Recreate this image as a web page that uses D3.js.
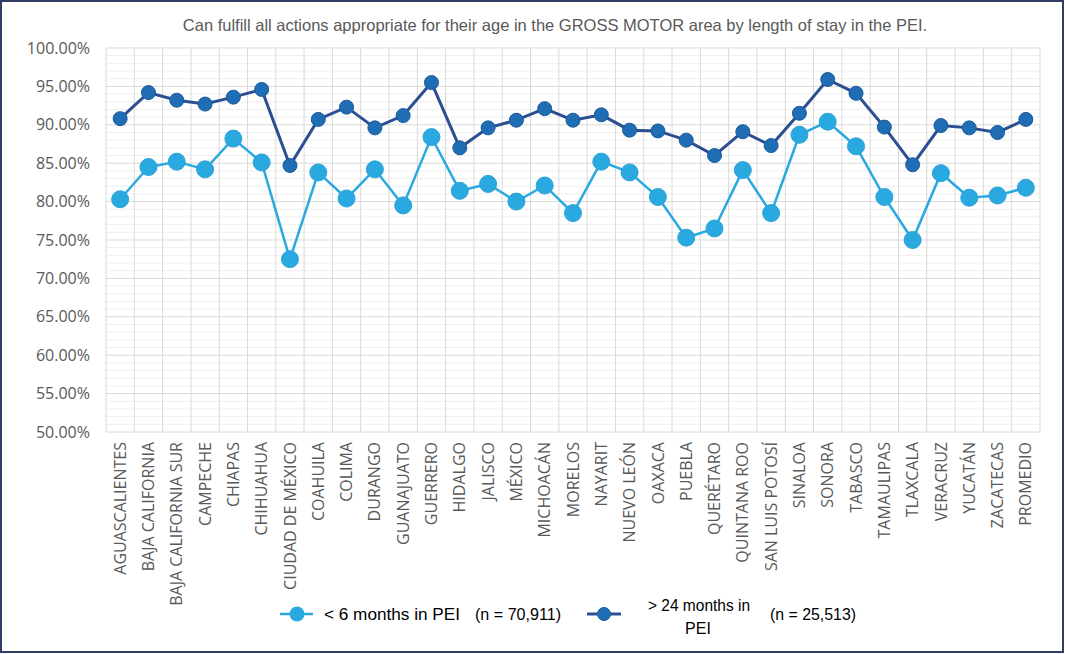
<!DOCTYPE html>
<html><head><meta charset="utf-8">
<script src="https://cdn.jsdelivr.net/npm/d3@7"></script>
<style>body{margin:0;background:#fff;}svg{display:block;}</style>
</head><body>
<svg id="c" width="1065" height="654"></svg>
<script>
const categories = ["AGUASCALIENTES","BAJA CALIFORNIA","BAJA CALIFORNIA SUR","CAMPECHE","CHIAPAS","CHIHUAHUA","CIUDAD DE MÉXICO","COAHUILA","COLIMA","DURANGO","GUANAJUATO","GUERRERO","HIDALGO","JALISCO","MÉXICO","MICHOACÁN","MORELOS","NAYARIT","NUEVO LEÓN","OAXACA","PUEBLA","QUERÉTARO","QUINTANA ROO","SAN LUIS POTOSÍ","SINALOA","SONORA","TABASCO","TAMAULIPAS","TLAXCALA","VERACRUZ","YUCATÁN","ZACATECAS","PROMEDIO"];
const lessThan6 = [80.3,84.5,85.2,84.2,88.2,85.1,72.5,83.8,80.4,84.2,79.5,88.4,81.4,82.3,80.0,82.1,78.5,85.2,83.8,80.6,75.3,76.5,84.1,78.5,88.7,90.4,87.2,80.6,75.0,83.7,80.5,80.8,81.8];
const moreThan24 = [90.8,94.2,93.2,92.7,93.6,94.6,84.7,90.7,92.3,89.6,91.2,95.5,87.0,89.6,90.6,92.1,90.6,91.3,89.3,89.2,88.0,86.0,89.1,87.3,91.5,95.9,94.1,89.7,84.8,89.9,89.6,89.0,90.7];
const yTicks = [50,55,60,65,70,75,80,85,90,95,100];
const title = "Can fulfill all actions appropriate for their age in the GROSS MOTOR area by length of stay in the PEI.";

const svg = d3.select("#c");
const L = 106, R = 1040, T = 48, B = 432;
const x = d3.scaleBand().domain(categories).range([L, R]);
const y = d3.scaleLinear().domain([50, 100]).range([B, T]);

// frame
svg.append("rect").attr("x",1).attr("y",1).attr("width",1062).attr("height",651)
  .attr("fill","#fff").attr("stroke","#2f3d66").attr("stroke-width",2);

// title
svg.append("text").attr("x",555).attr("y",31).attr("text-anchor","middle")
  .attr("font-family","Liberation Sans, Arial, sans-serif").attr("font-size",16.5)
  .attr("fill","#595959").text(title);

// minor grid
const minor = d3.range(50, 100, 1).filter(v => v % 5 !== 0);
svg.append("g").selectAll("line").data(minor).join("line")
  .attr("x1",L).attr("x2",R).attr("y1",d=>y(d)).attr("y2",d=>y(d))
  .attr("stroke","#efefef").attr("stroke-width",1);
// vertical grid
const vx = categories.map(c => x(c)).concat([R]);
svg.append("g").selectAll("line").data(vx).join("line")
  .attr("x1",d=>d).attr("x2",d=>d).attr("y1",T).attr("y2",B)
  .attr("stroke","#d9d9d9").attr("stroke-width",1);
// major grid
svg.append("g").selectAll("line").data(yTicks).join("line")
  .attr("x1",L).attr("x2",R).attr("y1",d=>y(d)).attr("y2",d=>y(d))
  .attr("stroke","#d9d9d9").attr("stroke-width",1);

// y axis labels
const yAxis = d3.axisLeft(y).tickValues(yTicks).tickSize(0).tickPadding(0)
  .tickFormat(d => d.toFixed(2) + "%");
const gy = svg.append("g").attr("transform",`translate(${L-16},0)`).call(yAxis);
gy.select(".domain").remove();
gy.selectAll("text").attr("font-family","Open Sans, sans-serif").attr("font-size",16).attr("fill","#595959");

// x axis labels
const xAxis = d3.axisBottom(x).tickSize(0).tickPadding(0);
const gx = svg.append("g").attr("transform",`translate(0,${B})`).call(xAxis);
gx.select(".domain").remove();
gx.selectAll("text").attr("font-family","Open Sans, sans-serif").attr("font-size",16).attr("fill","#595959")
  .attr("text-anchor","end").attr("transform","rotate(-90)")
  .attr("x",-10).attr("y",0).attr("dy","0.35em");

const cx = c => x(c) + x.bandwidth()/2;
const line = d3.line().x((d,i)=>cx(categories[i])).y(d=>y(d));

// light series
svg.append("path").datum(lessThan6).attr("d",line).attr("fill","none")
  .attr("stroke","#29a9e0").attr("stroke-width",2.5);
svg.append("g").selectAll("circle").data(lessThan6).join("circle")
  .attr("cx",(d,i)=>cx(categories[i])).attr("cy",d=>y(d)).attr("r",8.5)
  .attr("fill","#29a9e0").attr("stroke","#2ba3d8").attr("stroke-width",1);

// dark series
svg.append("path").datum(moreThan24).attr("d",line).attr("fill","none")
  .attr("stroke","#2c4f91").attr("stroke-width",3);
svg.append("g").selectAll("circle").data(moreThan24).join("circle")
  .attr("cx",(d,i)=>cx(categories[i])).attr("cy",d=>y(d)).attr("r",7)
  .attr("fill","#1f6db4").attr("stroke","#1a5a9a").attr("stroke-width",1);

// legend
const lg = svg.append("g").attr("font-family","Liberation Sans, Arial, sans-serif").attr("font-size",16).attr("fill","#000");
lg.append("line").attr("x1",280).attr("x2",313).attr("y1",614).attr("y2",614).attr("stroke","#29a9e0").attr("stroke-width",2.5);
lg.append("circle").attr("cx",297).attr("cy",614).attr("r",7.5).attr("fill","#29a9e0");
lg.append("text").attr("x",324).attr("y",620).text("< 6 months in PEI").attr("textLength",136).attr("lengthAdjust","spacingAndGlyphs");
lg.append("text").attr("x",475).attr("y",620).text("(n = 70,911)").attr("textLength",86).attr("lengthAdjust","spacingAndGlyphs");
lg.append("line").attr("x1",587).attr("x2",621).attr("y1",614).attr("y2",614).attr("stroke","#2c4f91").attr("stroke-width",3);
lg.append("circle").attr("cx",604).attr("cy",614).attr("r",6.5).attr("fill","#1f6db4").attr("stroke","#1a5a9a");
lg.append("text").attr("x",699).attr("y",611).attr("text-anchor","middle").text("> 24 months in").attr("textLength",102).attr("lengthAdjust","spacingAndGlyphs");
lg.append("text").attr("x",698).attr("y",634).attr("text-anchor","middle").text("PEI");
lg.append("text").attr("x",770).attr("y",620).text("(n = 25,513)").attr("textLength",86).attr("lengthAdjust","spacingAndGlyphs");
</script>
</body></html>
